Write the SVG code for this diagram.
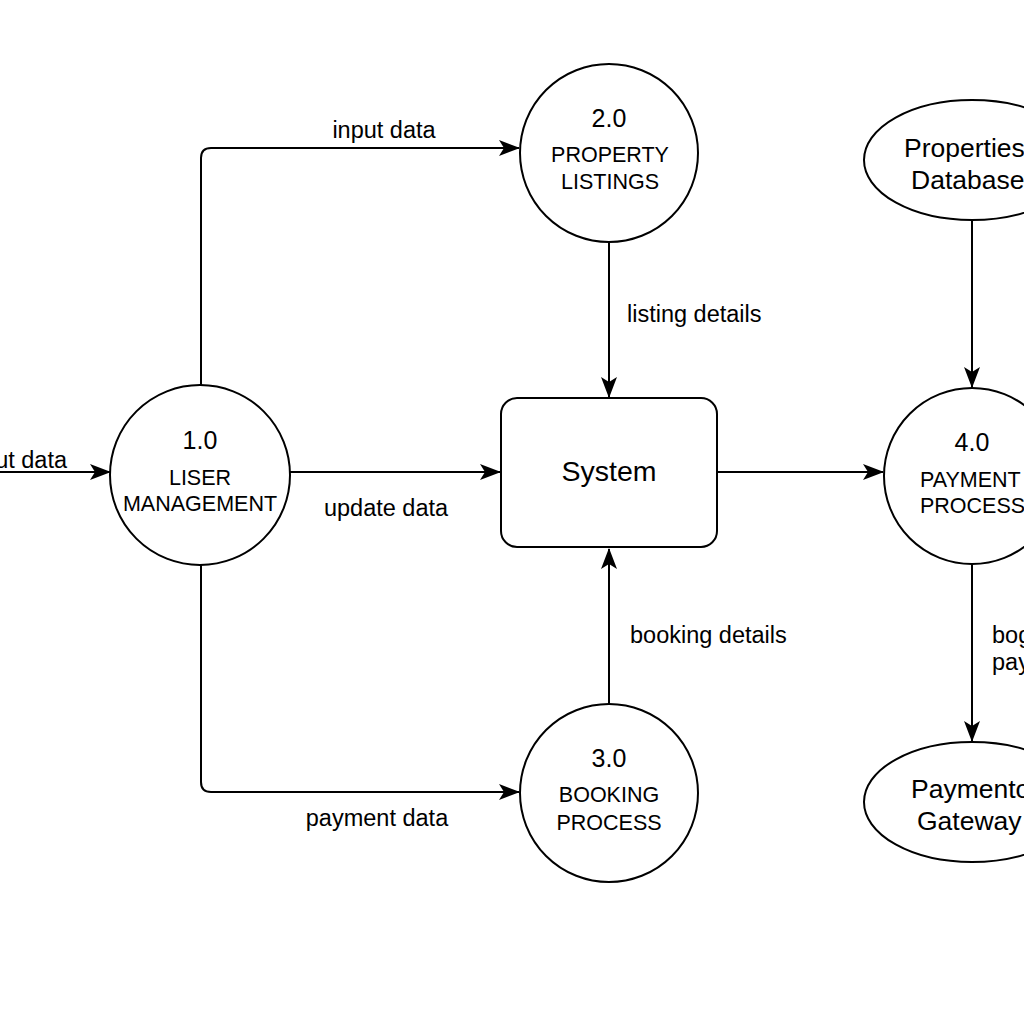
<svg xmlns="http://www.w3.org/2000/svg" width="1024" height="1024" viewBox="0 0 1024 1024">
<defs>
<marker id="arr" markerWidth="22" markerHeight="16" refX="20" refY="8" orient="auto" markerUnits="userSpaceOnUse">
<path d="M0,0 L21,8 L0,16 L5,8 Z" fill="#000"/>
</marker>
<style>
.shape{fill:#fff;stroke:#000;stroke-width:2}
.conn{fill:none;stroke:#000;stroke-width:2;marker-end:url(#arr)}
text{font-family:"Liberation Sans",Arial,sans-serif;fill:#000}
.num{font-size:25px;text-anchor:middle}
.nm{font-size:21.5px;text-anchor:middle}
.nms{font-size:21.5px}
.lbl{font-size:23.5px}
.big{font-size:26.5px}
</style>
</defs>
<rect width="1024" height="1024" fill="#fff"/>
<g id="connectors">
<path class="conn" d="M0,472 L110,472"/>
<path class="conn" d="M201,385 L201,158 Q201,148 211,148 L519,148"/>
<path class="conn" d="M290,472 L500,472"/>
<path class="conn" d="M201,565 L201,782 Q201,792 211,792 L519,792"/>
<path class="conn" d="M609,243 L609,397"/>
<path class="conn" d="M609,703 L609,549"/>
<path class="conn" d="M717,472 L883,472"/>
<path class="conn" d="M972,220 L972,387"/>
<path class="conn" d="M972,564 L972,741"/>
<text class="lbl" x="67" y="468" text-anchor="end">input data</text>
<text class="lbl" x="384" y="138" text-anchor="middle">input data</text>
<text class="lbl" x="386" y="516" text-anchor="middle">update data</text>
<text class="lbl" x="377" y="826" text-anchor="middle">payment data</text>
<text class="lbl" x="627" y="322">listing details</text>
<text class="lbl" x="630" y="643">booking details</text>
<text class="lbl" x="992" y="643">bog</text>
<text class="lbl" x="992" y="670">pay</text>
</g>
<g id="node-1">
<circle class="shape" cx="200" cy="475" r="90"/>
<text class="num" x="200" y="449">1.0</text>
<text class="nm" x="200" y="485">LISER</text>
<text class="nm" x="200" y="511">MANAGEMENT</text>
</g>
<g id="node-2">
<circle class="shape" cx="609" cy="153" r="89"/>
<text class="num" x="609" y="127">2.0</text>
<text class="nm" x="610" y="162">PROPERTY</text>
<text class="nm" x="610" y="189">LISTINGS</text>
</g>
<g id="node-3">
<circle class="shape" cx="609" cy="793" r="89"/>
<text class="num" x="609" y="767">3.0</text>
<text class="nm" x="609" y="802">BOOKING</text>
<text class="nm" x="609" y="830">PROCESS</text>
</g>
<g id="node-4">
<circle class="shape" cx="972" cy="476" r="88"/>
<text class="num" x="972" y="451">4.0</text>
<text class="nms" x="920" y="487">PAYMENT</text>
<text class="nms" x="920" y="513">PROCESS</text>
</g>
<g id="system">
<rect class="shape" x="501" y="398" width="216" height="149" rx="16"/>
<text x="609" y="481" font-size="28.5" text-anchor="middle">System</text>
</g>
<g id="properties-db">
<ellipse class="shape" cx="972" cy="160" rx="108" ry="60"/>
<text class="big" x="904" y="157">Properties</text>
<text class="big" x="911" y="189">Database</text>
</g>
<g id="payment-gateway">
<ellipse class="shape" cx="972" cy="802" rx="108" ry="60"/>
<text class="big" x="911" y="798">Paymento</text>
<text class="big" x="917" y="830">Gateway</text>
</g>
</svg>
